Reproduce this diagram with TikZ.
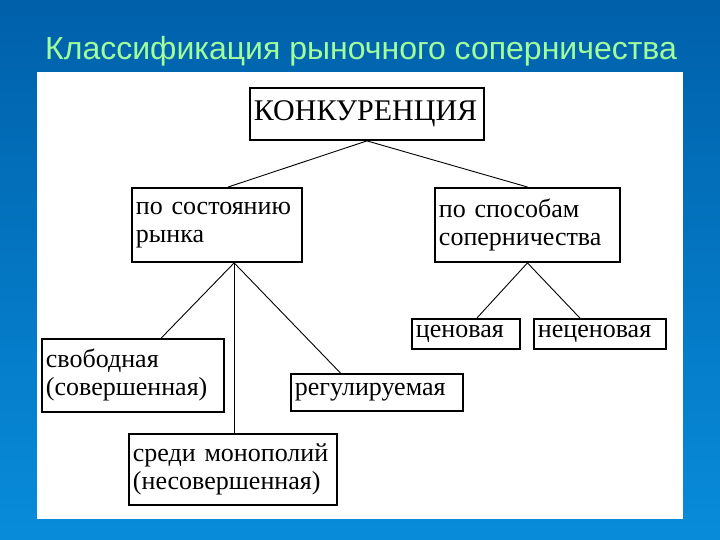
\documentclass[tikz,border=0pt]{standalone}
\usepackage{fontspec}
\setmainfont{Liberation Serif}
\newfontfamily\titlefont{Liberation Sans}
\usetikzlibrary{calc}

\definecolor{slideblue}{RGB}{0,96,170}
\definecolor{slidelight}{RGB}{8,140,218}
\definecolor{titlegreen}{RGB}{160,255,155}

\tikzset{
  box/.style={draw, line width=1.9pt, anchor=north west, inner xsep=4pt,
    inner ysep=2pt, align=left, font=\fontsize{26}{28}\selectfont},
  link/.style={line width=0.9pt}
}

\begin{document}
\begin{tikzpicture}[x=1pt,y=-1pt]
    \useasboundingbox (0,0) rectangle (720,540);

    % Slide background
    \shade[top color=slideblue, bottom color=slidelight] (0,0) rectangle (720,540);
    \node[anchor=base west, inner sep=0pt, text=titlegreen,
      font=\titlefont\fontsize{32}{34}\selectfont] (title) at (45,60)
      {Классификация рыночного соперничества};
    \fill[white] (37,72) rectangle (683,519);

    % Boxes
    \node[box, text width=226pt, minimum height=52pt] (konk) at (249,87)
      {\fontsize{30}{31}\selectfont КОНКУРЕНЦИЯ};
    \node[box, text width=162pt, minimum height=74pt] (rynok) at (131,187)
      {по состоянию\\рынка};
    \node[box, text width=177pt, minimum height=74pt] (sposob) at (434,187)
      {по способам\\соперничества};
    \node[box, text width=100pt, minimum height=30pt] (price) at (411,318)
      {ценовая};
    \node[box, text width=124pt, minimum height=30pt] (nonprice) at (533,318)
      {неценовая};
    \node[box, text width=174pt, minimum height=73pt] (free) at (41,338)
      {свободная\\(совершенная)};
    \node[box, text width=164pt, minimum height=37pt] (regul) at (290,373)
      {регулируемая};
    \node[box, text width=200pt, minimum height=71pt] (mono) at (128,433)
      {среди монополий\\(несовершенная)};

    % Connectors
    \coordinate (rtop)  at ($(rynok.north west)!0.565!(rynok.north east)$);
    \coordinate (rfork) at ($(rynok.south west)!0.6!(rynok.south east)$);
    \draw[link] (konk.south) -- (rtop);
    \draw[link] (konk.south) -- (sposob.north);
    \draw[link] (rfork) -- ($(free.north west)!0.654!(free.north east)$);
    \draw[link] (rfork) -- ($(regul.north west)!0.29!(regul.north east)$);
    \draw[link] (rfork) -- (rfork |- mono.north);
    \draw[link] (sposob.south) -- ($(price.north west)!0.6!(price.north east)$);
    \draw[link] (sposob.south) -- ($(nonprice.north west)!0.35!(nonprice.north east)$);
\end{tikzpicture}
\end{document}
